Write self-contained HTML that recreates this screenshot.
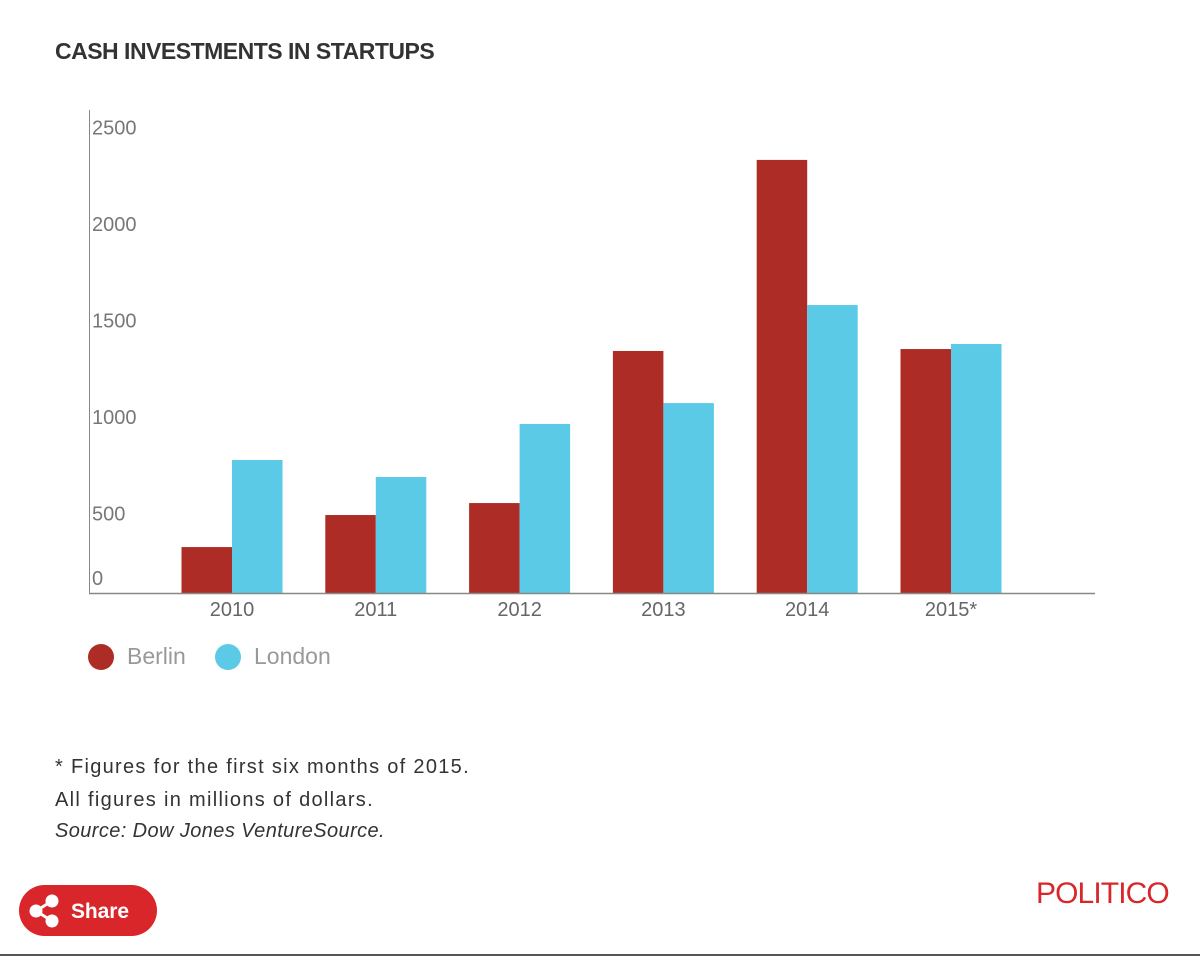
<!DOCTYPE html>
<html><head><meta charset="utf-8">
<style>
body{margin:0;width:1200px;height:957px;background:#fff;position:relative;overflow:hidden;font-family:"Liberation Sans",sans-serif;}
.t{position:absolute;}
#title{left:55px;top:38px;font-size:23px;font-weight:bold;color:#333;letter-spacing:-0.5px;}
.note{left:55px;font-size:20px;color:#333;letter-spacing:1.3px;}
#share{left:19px;top:885px;width:138px;height:51px;background:#d9262b;border-radius:26px;color:#fff;}
#politico{left:1036px;top:877px;font-size:30px;color:#d9262b;letter-spacing:-0.9px;}
#bottomline{left:0;top:954px;width:1200px;height:2px;background:#555;}
</style></head><body>
<div class="t" id="title">CASH INVESTMENTS IN STARTUPS</div>
<svg class="t" style="left:0;top:0" width="1200" height="720">
<g id="bars"></g><g id="ax"></g>
</svg>
<div class="t note" style="top:756px">* Figures for the first six months of 2015.</div>
<div class="t note" style="top:789px">All figures in millions of dollars.</div>
<div class="t note" style="top:820px;font-style:italic;letter-spacing:0.4px">Source: Dow Jones VentureSource.</div>
<div class="t" id="share">
<svg width="138" height="51"><g fill="#fff" stroke="#fff" stroke-width="3"><line x1="17" y1="26" x2="33" y2="16"/><line x1="17" y1="26" x2="33" y2="36"/><circle cx="17" cy="26" r="5"/><circle cx="33" cy="16" r="5"/><circle cx="33" cy="36" r="5"/></g>
<text x="52" y="33" font-size="21" font-weight="bold" fill="#fff" textLength="58" font-family="Liberation Sans Narrow, Liberation Sans, sans-serif">Share</text></svg></div>
<div class="t" id="politico">POLITICO</div>
<div class="t" id="bottomline"></div>
<script>
const years=["2010","2011","2012","2013","2014","2015*"];
const berlin=[238,404,466,1254,2244,1264];
const london=[689,601,876,984,1492,1290];
const ticks=[0,500,1000,1500,2000,2500];
const NS="http://www.w3.org/2000/svg";
const y0=593,pxPer=96.5/500,x0=232,step=143.8,bw=50.5;
const y=v=>y0-v*pxPer;
const FONT="Liberation Sans Narrow, Liberation Sans, sans-serif";
function mk(tag,attrs,parent){const e=document.createElementNS(NS,tag);for(const k in attrs)e.setAttribute(k,attrs[k]);parent.appendChild(e);return e;}
const bars=document.getElementById('bars'),ax=document.getElementById('ax');
years.forEach((yr,i)=>{
 const cx=x0+i*step;
 const b=mk('rect',{x:cx-bw,y:y(berlin[i]),width:bw,height:y0-y(berlin[i]),fill:'#ad2c25'},bars);
 
 
 const l=mk('rect',{x:cx,y:y(london[i]),width:bw,height:y0-y(london[i]),fill:'#5bcae6'},bars);
 
 
 const t=mk('text',{x:cx,y:616,'text-anchor':'middle','font-size':20,fill:'#666','font-family':FONT},ax);
 t.textContent=yr;
 
 
});
ticks.forEach(v=>{
 const t=mk('text',{x:92,y:v===0?585:y(v)+24,'font-size':20,fill:'#777','font-family':FONT},ax);
 t.textContent=v;
 
 
});
const ya=mk('line',{x1:89.5,y1:110,x2:89.5,y2:593,stroke:'#888','stroke-width':1},ax);


const xa=mk('line',{x1:89,y1:593.5,x2:1095,y2:593.5,stroke:'#888','stroke-width':1.5},ax);


[[101,'#ad2c25','Berlin'],[228,'#5bcae6','London']].forEach(([cx,c,n])=>{
 const g=mk('g',{},ax);
 
 
 mk('circle',{cx:cx,cy:657,r:13,fill:c},g);
 const t=mk('text',{x:cx+26,y:664,'font-size':23,fill:'#999','font-family':FONT},g);
 t.textContent=n;
});
</script>
</body></html>
